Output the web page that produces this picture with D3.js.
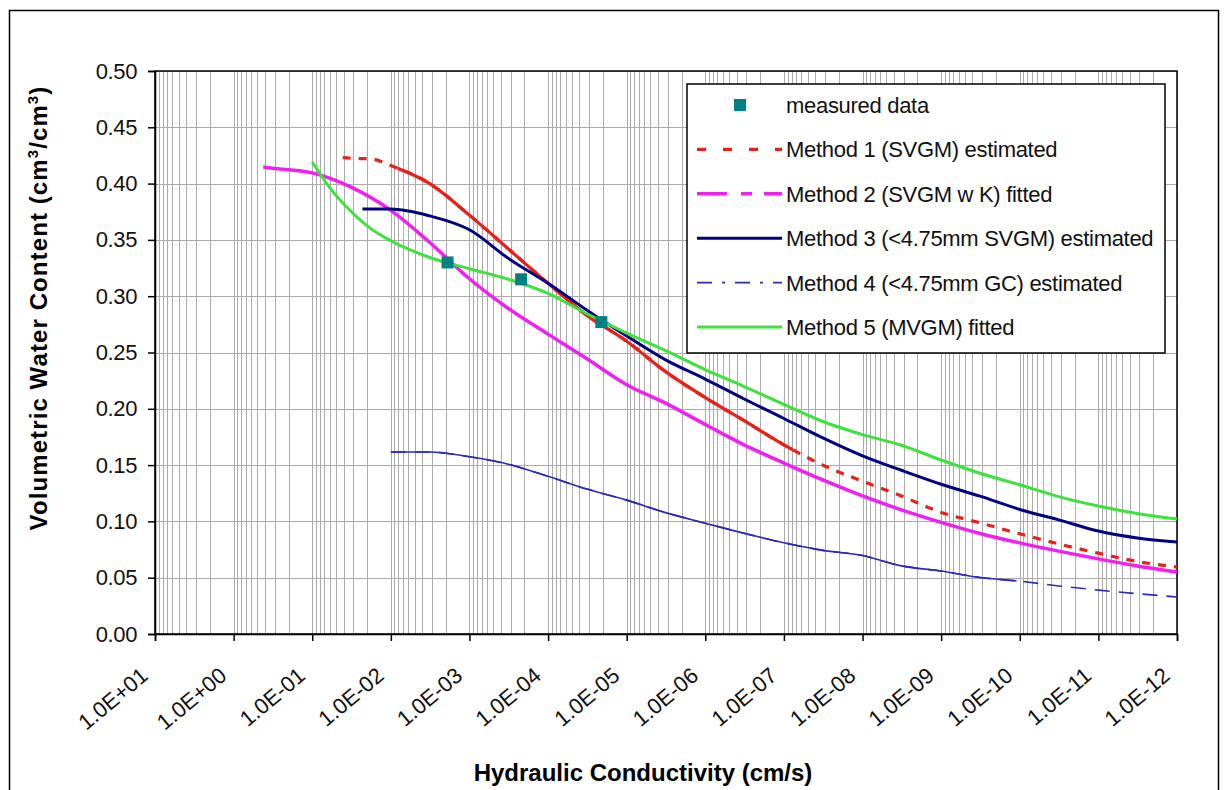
<!DOCTYPE html>
<html>
<head>
	<title>Water content vs hydraulic conductivity</title>
	<script src="https://cdn.jsdelivr.net/npm/d3@7"></script>
	<style>
		body { margin: 0; background: #fff; }
		text { font-family: "Liberation Sans", Arial, sans-serif; }
	</style>
</head>
<body>
<script>
// hydraulic conductivity K (cm/s) and volumetric water content for each series
var measuredK = [1.9e-3, 2.2e-4, 2.1e-5];
var measuredTheta = [0.330, 0.315, 0.277];

var m1K = [4.1e-2, 3.2e-2, 1.8e-2, 1e-2, 3.2e-3, 1e-3, 3.2e-4, 1e-4, 3.2e-5, 1e-5, 3.2e-6, 1e-6, 3.2e-7, 1e-7, 3.2e-8, 1e-8, 3.2e-9, 1e-9, 3.2e-10, 1e-10, 3.2e-11, 1e-11, 3.2e-12, 1e-12];
var m1Theta = [0.423, 0.4225, 0.422, 0.416, 0.400, 0.372, 0.342, 0.3115, 0.283, 0.260, 0.233, 0.210, 0.1895, 0.168, 0.150, 0.1357, 0.1226, 0.108, 0.0987, 0.089, 0.080, 0.0718, 0.0644, 0.0595];

var m2K = [4.2e-1, 3.2e-1, 1e-1, 3.2e-2, 1e-2, 3.2e-3, 1e-3, 3.2e-4, 1e-4, 3.2e-5, 1e-5, 3.2e-6, 1e-6, 3.2e-7, 1e-7, 3.2e-8, 1e-8, 3.2e-9, 1e-9, 3.2e-10, 1e-10, 3.2e-11, 1e-11, 3.2e-12, 1e-12];
var m2Theta = [0.4147, 0.4137, 0.4095, 0.3968, 0.3762, 0.3477, 0.3155, 0.2891, 0.2663, 0.2444, 0.2214, 0.2050, 0.1861, 0.1679, 0.1518, 0.1368, 0.1226, 0.1103, 0.0992, 0.0893, 0.0809, 0.0736, 0.0667, 0.0604, 0.0551];

var m3K = [2.3e-2, 1e-2, 3.2e-3, 1e-3, 3.2e-4, 1e-4, 3.2e-5, 1e-5, 3.2e-6, 1e-6, 3.2e-7, 1e-7, 3.2e-8, 1e-8, 3.2e-9, 1e-9, 3.2e-10, 1e-10, 3.2e-11, 1e-11, 3.2e-12, 1e-12];
var m3Theta = [0.3774, 0.3774, 0.3713, 0.3590, 0.3336, 0.3115, 0.2876, 0.2647, 0.2435, 0.2264, 0.2087, 0.1914, 0.1741, 0.1582, 0.1454, 0.1330, 0.1224, 0.1106, 0.1014, 0.0914, 0.0852, 0.0817];

var m4K = [1e-2, 3.2e-3, 1e-3, 3.2e-4, 1e-4, 3.2e-5, 1e-5, 3.2e-6, 1e-6, 3.2e-7, 1e-7, 3.2e-8, 1e-8, 3.2e-9, 1e-9, 3.2e-10, 1e-10, 3.2e-11, 1e-11, 3.2e-12, 1e-12];
var m4Theta = [0.1616, 0.1616, 0.1574, 0.1508, 0.1400, 0.1287, 0.1189, 0.1078, 0.0984, 0.0894, 0.0810, 0.0743, 0.0697, 0.0605, 0.0559, 0.0502, 0.0469, 0.0427, 0.0390, 0.0358, 0.0329];

var m5K = [1e-1, 5.6e-2, 3.2e-2, 1.8e-2, 1e-2, 3.2e-3, 1e-3, 3.2e-4, 1e-4, 3.2e-5, 1e-5, 3.2e-6, 1e-6, 3.2e-7, 1e-7, 3.2e-8, 1e-8, 3.2e-9, 1e-9, 3.2e-10, 1e-10, 3.2e-11, 1e-11, 3.2e-12, 1e-12];
var m5Theta = [0.4192, 0.3937, 0.3752, 0.3600, 0.3492, 0.3344, 0.3244, 0.3151, 0.3025, 0.2844, 0.2673, 0.2517, 0.2348, 0.2198, 0.2039, 0.1887, 0.1771, 0.1676, 0.1545, 0.1428, 0.1325, 0.1220, 0.1136, 0.1070, 0.1021];

var xTickExponents = [1, 0, -1, -2, -3, -4, -5, -6, -7, -8, -9, -10, -11, -12];
var yTicks = [0, 0.05, 0.10, 0.15, 0.20, 0.25, 0.30, 0.35, 0.40, 0.45, 0.50];

var legendLabels = ["measured data", "Method 1 (SVGM) estimated", "Method 2 (SVGM w K) fitted",
  "Method 3 (<4.75mm SVGM) estimated", "Method 4 (<4.75mm GC) estimated", "Method 5 (MVGM) fitted"];

function zip(a, b) { return a.map(function(v, i) { return [v, b[i]]; }); }

var W = 1227, H = 790;
var pLeft = 155, pRight = 1177, pTop = 71, pBottom = 634;

var svg = d3.select("body").append("svg")
    .attr("width", W)
    .attr("height", H);

svg.append("rect").attr("x", 9.5).attr("y", 10.5).attr("width", 1209).attr("height", 800)
   .attr("fill", "#fff").attr("stroke", "#000").attr("stroke-width", 1.5);

var x = d3.scaleLog().domain([10, 1e-12]).range([pLeft, pRight]);
var y = d3.scaleLinear().domain([0, 0.5]).range([pBottom, pTop]);

// gridlines
var grid = svg.append("g").attr("shape-rendering", "crispEdges");
var minor = [];
for (var n = 1; n > -12; n--) {
  for (var k = 1; k <= 9; k++) minor.push(k * Math.pow(10, n - 1));
}
grid.selectAll("line.v").data(minor).enter().append("line")
    .attr("x1", function(d) { return Math.round(x(d)) + 0.5; })
    .attr("x2", function(d) { return Math.round(x(d)) + 0.5; })
    .attr("y1", pTop).attr("y2", pBottom)
    .attr("stroke", "#ababab").attr("stroke-width", 1);
grid.selectAll("line.h").data(yTicks).enter().append("line")
    .attr("x1", pLeft).attr("x2", pRight)
    .attr("y1", function(d) { return Math.round(y(d)) + 0.5; })
    .attr("y2", function(d) { return Math.round(y(d)) + 0.5; })
    .attr("stroke", "#ababab").attr("stroke-width", 1);

// plot border
svg.append("rect").attr("x", pLeft).attr("y", pTop).attr("width", pRight - pLeft).attr("height", pBottom - pTop)
   .attr("fill", "none").attr("stroke", "#000").attr("stroke-width", 1.5);

// axes
var xAxis = d3.axisBottom(x)
    .tickValues(xTickExponents.map(function(e) { return Math.pow(10, e); }))
    .tickSize(7)
    .tickFormat(function(d) {
      var e = Math.round(Math.log10(d));
      var s = String(Math.abs(e)).padStart(2, "0");
      return "1.0E" + (e >= 0 ? "+" : "-") + s;
    });
var gx = svg.append("g").attr("transform", "translate(0," + pBottom + ")").call(xAxis);
gx.select(".domain").attr("stroke-width", 1.5);
gx.selectAll(".tick line").attr("stroke-width", 1.5);
gx.selectAll(".tick text")
    .attr("font-size", 22)
    .attr("fill", "#111")
    .attr("text-anchor", "end")
    .attr("dy", 0)
    .attr("transform", "translate(-6,44) rotate(-40)")
    .attr("y", 0).attr("x", 0);

var yAxis = d3.axisLeft(y).tickValues(yTicks).tickSize(7).tickPadding(11).tickFormat(d3.format(".2f"));
var gy = svg.append("g").attr("transform", "translate(" + pLeft + ",0)").call(yAxis);
gy.select(".domain").attr("stroke-width", 1.5);
gy.selectAll(".tick line").attr("stroke-width", 1.5);
gy.selectAll(".tick text").attr("font-size", 22).attr("fill", "#111").attr("letter-spacing", -0.4);

// axis titles
svg.append("text").attr("x", 643).attr("y", 781).attr("text-anchor", "middle")
   .attr("font-size", 24).attr("font-weight", "bold").text("Hydraulic Conductivity (cm/s)");

var yt = svg.append("text").attr("transform", "translate(47,308) rotate(-90)").attr("text-anchor", "middle")
   .attr("font-size", 24).attr("font-weight", "bold").attr("letter-spacing", 1.1);
yt.append("tspan").text("Volumetric Water Content (cm");
yt.append("tspan").attr("dy", -9).attr("font-size", 15).text("3");
yt.append("tspan").attr("dy", 9).text("/cm");
yt.append("tspan").attr("dy", -9).attr("font-size", 15).text("3");
yt.append("tspan").attr("dy", 9).text(")");

// series
var line = d3.line()
    .x(function(d) { return x(d[0]); })
    .y(function(d) { return y(d[1]); })
    .curve(d3.curveMonotoneX);

var defs = svg.append("defs");
defs.append("clipPath").attr("id", "solid1").append("rect")
    .attr("x", x(8.3e-3)).attr("y", 0).attr("width", x(7.6e-8) - x(8.3e-3)).attr("height", H);
defs.append("clipPath").attr("id", "solid4").append("rect")
    .attr("x", 0).attr("y", 0).attr("width", x(1.1e-10)).attr("height", H);

var plot = svg.append("g");

// method 4 (thin blue, dash-dot where points are sparse)
plot.append("path").attr("d", line(zip(m4K, m4Theta))).attr("fill", "none")
    .attr("stroke", "#2b2bb5").attr("stroke-width", 1.6).attr("stroke-dasharray", "15,9");
plot.append("path").attr("d", line(zip(m4K, m4Theta))).attr("fill", "none").attr("clip-path", "url(#solid4)")
    .attr("stroke", "#2b2bb5").attr("stroke-width", 1.6);

// method 2 magenta
plot.append("path").attr("d", line(zip(m2K, m2Theta))).attr("fill", "none")
    .attr("stroke", "#f020f0").attr("stroke-width", 3.5);

// method 1 red
plot.append("path").attr("d", line(zip(m1K, m1Theta))).attr("fill", "none")
    .attr("stroke", "#e8201a").attr("stroke-width", 3.2).attr("stroke-dasharray", "8,8");
plot.append("path").attr("d", line(zip(m1K, m1Theta))).attr("fill", "none").attr("clip-path", "url(#solid1)")
    .attr("stroke", "#e8201a").attr("stroke-width", 3.2);

// method 3 navy
plot.append("path").attr("d", line(zip(m3K, m3Theta))).attr("fill", "none")
    .attr("stroke", "#000080").attr("stroke-width", 3);

// method 5 green
plot.append("path").attr("d", line(zip(m5K, m5Theta))).attr("fill", "none")
    .attr("stroke", "#3de23d").attr("stroke-width", 3);

// measured
plot.selectAll("rect.pt").data(zip(measuredK, measuredTheta)).enter().append("rect")
    .attr("x", function(d) { return x(d[0]) - 6; })
    .attr("y", function(d) { return y(d[1]) - 6; })
    .attr("width", 12).attr("height", 12)
    .attr("fill", "#008080");

// legend
var lg = svg.append("g");
lg.append("rect").attr("x", 687).attr("y", 84).attr("width", 478).attr("height", 269)
  .attr("fill", "#fff").attr("stroke", "#000").attr("stroke-width", 1.5);

var rowY = function(i) { return 105 + i * 44.4; };
var styles = [
  null,
  { c: "#e8201a", w: 3.2, dash: "9,17" },
  { c: "#f020f0", w: 3.5, dash: "30,14,11,12" },
  { c: "#000080", w: 3, dash: null },
  { c: "#2b2bb5", w: 1.6, dash: "15,10,3,10" },
  { c: "#3de23d", w: 3, dash: null }
];
legendLabels.forEach(function(t, i) {
  var yy = rowY(i);
  if (i === 0) {
    lg.append("rect").attr("x", 734).attr("y", yy - 6).attr("width", 12).attr("height", 12).attr("fill", "#008080");
  } else {
    var s = styles[i];
    lg.append("line").attr("x1", 697).attr("x2", 782).attr("y1", yy).attr("y2", yy)
      .attr("stroke", s.c).attr("stroke-width", s.w).attr("stroke-dasharray", s.dash);
  }
  lg.append("text").attr("x", 786).attr("y", yy + 8).attr("font-size", 22).attr("fill", "#111")
    .attr("letter-spacing", -0.3).text(t);
});
</script>
</body>
</html>
